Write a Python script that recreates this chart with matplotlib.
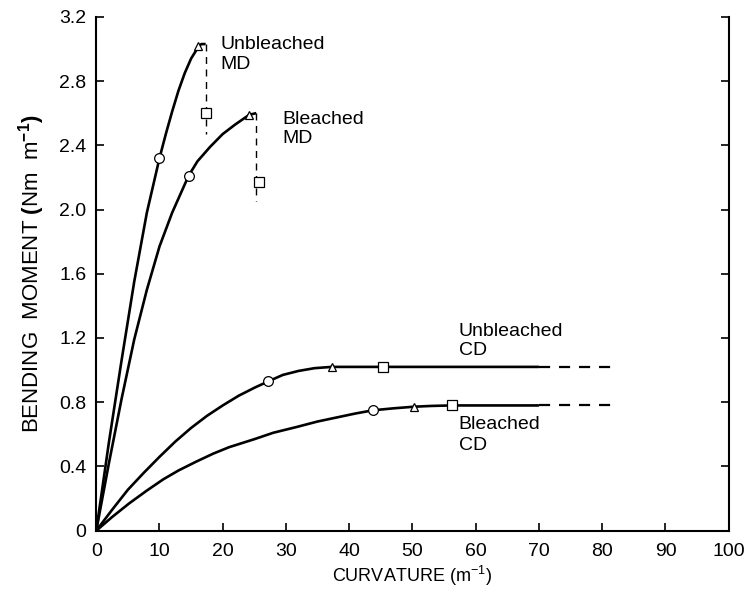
import matplotlib.pyplot as plt

plt.rcParams["font.family"] = ["Liberation Sans", "DejaVu Sans"]
plt.rcParams["mathtext.fontset"] = "custom"
plt.rcParams["mathtext.rm"] = "Liberation Sans"
plt.rcParams["mathtext.bf"] = "Liberation Sans:bold"

ub_md_x = [0, 2, 4, 6, 8, 10, 11, 12, 13, 14, 15, 16.1, 16.6, 17.3]
ub_md_y = [0, 0.55, 1.06, 1.55, 1.98, 2.32, 2.47, 2.61, 2.74, 2.85, 2.94, 3.01, 3.03, 3.03]
b_md_x = [0, 2, 4, 6, 8, 10, 12, 14.6, 16, 18, 20, 22, 24.2, 25.3]
b_md_y = [0, 0.42, 0.82, 1.19, 1.50, 1.77, 1.98, 2.21, 2.30, 2.39, 2.47, 2.53, 2.59, 2.60]
ub_cd_x = [0, 2.5, 5, 7.5, 10, 12.5, 15, 17.5, 20, 22.5, 25, 27.2, 29.5, 32, 34.5,
           37.2, 45.3, 70]
ub_cd_y = [0, 0.13, 0.255, 0.36, 0.46, 0.555, 0.64, 0.715, 0.78, 0.84, 0.89, 0.93,
           0.97, 0.995, 1.012, 1.02, 1.02, 1.02]
b_cd_x = [0, 2.5, 5.2, 8, 10.6, 13, 15.8, 18.5, 21, 25, 28, 31.6, 35, 38, 41, 43.8,
          47, 50.2, 53, 56.2, 70]
b_cd_y = [0, 0.085, 0.17, 0.25, 0.32, 0.375, 0.43, 0.48, 0.52, 0.57, 0.61, 0.645,
          0.68, 0.705, 0.73, 0.75, 0.762, 0.772, 0.777, 0.78, 0.78]

# gestrichelte fortsetzungen
ub_md_drop_x = [17.3, 17.3]
ub_md_drop_y = [3.03, 2.47]
b_md_drop_x = [25.3, 25.3]
b_md_drop_y = [2.60, 2.05]
ub_cd_ext_x = [70, 82]
ub_cd_ext_y = [1.02, 1.02]
b_cd_ext_x = [70, 82.5]
b_cd_ext_y = [0.78, 0.78]

# messpunkte: kreis, dreieck, quadrat
circ_x = [10.0, 14.6, 27.2, 43.8]
circ_y = [2.32, 2.21, 0.93, 0.75]
tri_x = [16.1, 24.2, 37.2, 50.2]
tri_y = [3.02, 2.59, 1.02, 0.77]
sq_x = [17.4, 25.8, 45.3, 56.2]
sq_y = [2.60, 2.17, 1.02, 0.78]

fig = plt.figure(figsize=(7.52, 5.99), dpi=100)
ax = fig.add_axes([0.128, 0.114, 0.841, 0.858])

for xs, ys in [(ub_md_x, ub_md_y), (b_md_x, b_md_y), (ub_cd_x, ub_cd_y), (b_cd_x, b_cd_y)]:
    ax.plot(xs, ys, color="black", lw=1.9, solid_capstyle="butt", solid_joinstyle="round")
for xs, ys in [(ub_md_drop_x, ub_md_drop_y), (b_md_drop_x, b_md_drop_y)]:
    ax.plot(xs, ys, color="black", lw=1.0, dashes=(5, 4))
for xs, ys in [(ub_cd_ext_x, ub_cd_ext_y), (b_cd_ext_x, b_cd_ext_y)]:
    ax.plot(xs, ys, color="black", lw=1.6, dashes=(5, 4))

ax.plot(circ_x, circ_y, "o", ms=7, mfc="white", mec="black", mew=0.9, zorder=5)
ax.plot(tri_x, tri_y, "^", ms=6, mfc="white", mec="black", mew=0.9, zorder=5)
ax.plot(sq_x, sq_y, "s", ms=6.5, mfc="white", mec="black", mew=0.9, zorder=5)

ax.text(19.6, 3.03, "Unbleached", fontsize=14, va="center")
ax.text(19.6, 2.90, "MD", fontsize=14, va="center")
ax.text(29.4, 2.56, "Bleached", fontsize=14, va="center")
ax.text(29.4, 2.44, "MD", fontsize=14, va="center")
ax.text(57.3, 1.24, "Unbleached", fontsize=14, va="center")
ax.text(57.3, 1.12, "CD", fontsize=14, va="center")
ax.text(57.3, 0.66, "Bleached", fontsize=14, va="center")
ax.text(57.3, 0.53, "CD", fontsize=14, va="center")

ax.set_xlim(0, 100)
ax.set_ylim(0, 3.2)
ax.set_xticks(range(0, 101, 10))
ax.set_yticks([0, 0.4, 0.8, 1.2, 1.6, 2.0, 2.4, 2.8, 3.2])
ax.set_yticklabels(["0", "0.4", "0.8", "1.2", "1.6", "2.0", "2.4", "2.8", "3.2"])
ax.tick_params(direction="in", length=6, width=1.2, labelsize=14, right=True)
ax.tick_params(axis="x", pad=9)
ax.tick_params(axis="y", pad=7)
ax.spines["top"].set_visible(False)
for s in ["left", "bottom", "right"]:
    ax.spines[s].set_linewidth(1.5)

ax.set_xlabel(r"CURVATURE (m$^{-1}$)", fontsize=13, labelpad=3)
ax.set_ylabel(r"BENDING  MOMENT $\mathbf{(}$Nm  m$^{\mathbf{-1}}$$\mathbf{)}$",
              fontsize=16, labelpad=4)
ax.yaxis.set_label_coords(-0.078, 0.5)

fig.savefig("out.png", dpi=100)
